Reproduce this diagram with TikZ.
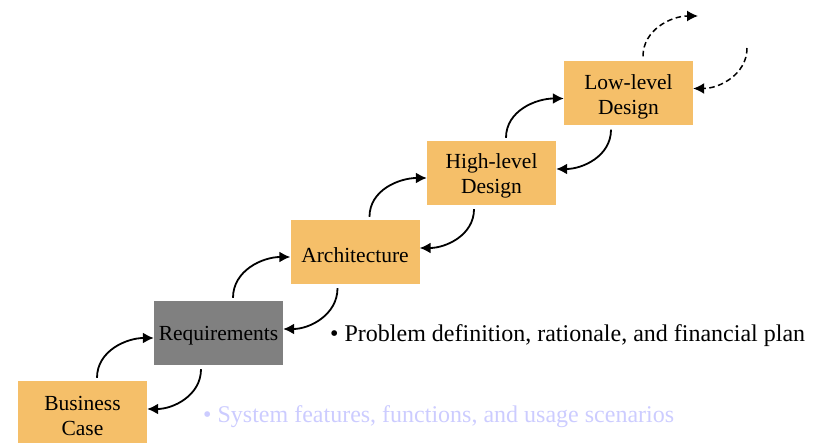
\documentclass[tikz,border=0pt]{standalone}
\usepackage{fontspec}
\setmainfont{Liberation Serif}
\usetikzlibrary{arrows.meta,calc}
\definecolor{boxorange}{HTML}{F5BF69}
\definecolor{boxgray}{HTML}{808080}
\definecolor{lavender}{HTML}{CCCCFF}
\tikzset{
  phase/.style={minimum width=129pt,minimum height=64pt,inner sep=0pt,fill=boxorange},
  phasetext/.style={label={[yshift=-3pt,inner sep=0pt,align=center,font=\fontsize{21.5}{25}\selectfont]center:#1}},
  flow/.style={line width=1.8pt,-{Latex[length=11pt,width=11pt]}},
  dflow/.style={flow,line width=1.5pt,dash pattern=on 5.5pt off 3.5pt},
  bullet/.style={anchor=base west,inner sep=0pt,font=\fontsize{24}{28}\selectfont}
}
\begin{document}
\begin{tikzpicture}[x=1pt,y=-1pt]
\useasboundingbox (0,0) rectangle (829,443);
\node[phase,phasetext={Business\\Case}] (bc) at (82.5,413) {};
\node[phase,fill=boxgray,phasetext={Requirements}] (req) at (218.5,333) {};
\node[phase,phasetext={Architecture}] (arch) at (355,252) {};
\node[phase,phasetext={High-level\\Design}] (hld) at (491.5,173) {};
\node[phase,phasetext={Low-level\\Design}] (lld) at (628.5,93.5) {};
% forward arrows
\draw[flow] ($(bc.north)+(14.5,-3)$) to[out=90,in=180] ($(req.west)+(0,5)$);
\draw[flow] ($(req.north)+(14.5,-3)$) to[out=90,in=180] ($(arch.west)+(0,5)$);
\draw[flow] ($(arch.north)+(14.5,-3)$) to[out=90,in=180] ($(hld.west)+(0,5)$);
\draw[flow] ($(hld.north)+(14.5,-3)$) to[out=90,in=180] ($(lld.west)+(0,5)$);
% backward arrows
\draw[flow] ($(req.south)+(-17.5,4)$) to[out=-90,in=0] ($(bc.east)+(0,-4)$);
\draw[flow] ($(arch.south)+(-17.5,4)$) to[out=-90,in=0] ($(req.east)+(0,-4)$);
\draw[flow] ($(hld.south)+(-17.5,4)$) to[out=-90,in=0] ($(arch.east)+(0,-4)$);
\draw[flow] ($(lld.south)+(-17.5,4)$) to[out=-90,in=0] ($(hld.east)+(0,-4)$);
% dashed continuation
\coordinate (up) at (698,16);
\coordinate (down) at (747,48);
\draw[dflow] ($(lld.north)+(14.5,-5)$) to[out=90,in=180] (up);
\draw[dflow] (down) to[out=-90,in=0] ($(lld.east)+(0,-5)$);
% bullet texts
\node[bullet] (t1) at (330,341) {\textbullet\ Problem definition, rationale, and financial plan};
\node[bullet,text=lavender] (t2) at (203,422) {\textbullet\ System features, functions, and usage scenarios};
\end{tikzpicture}
\end{document}
